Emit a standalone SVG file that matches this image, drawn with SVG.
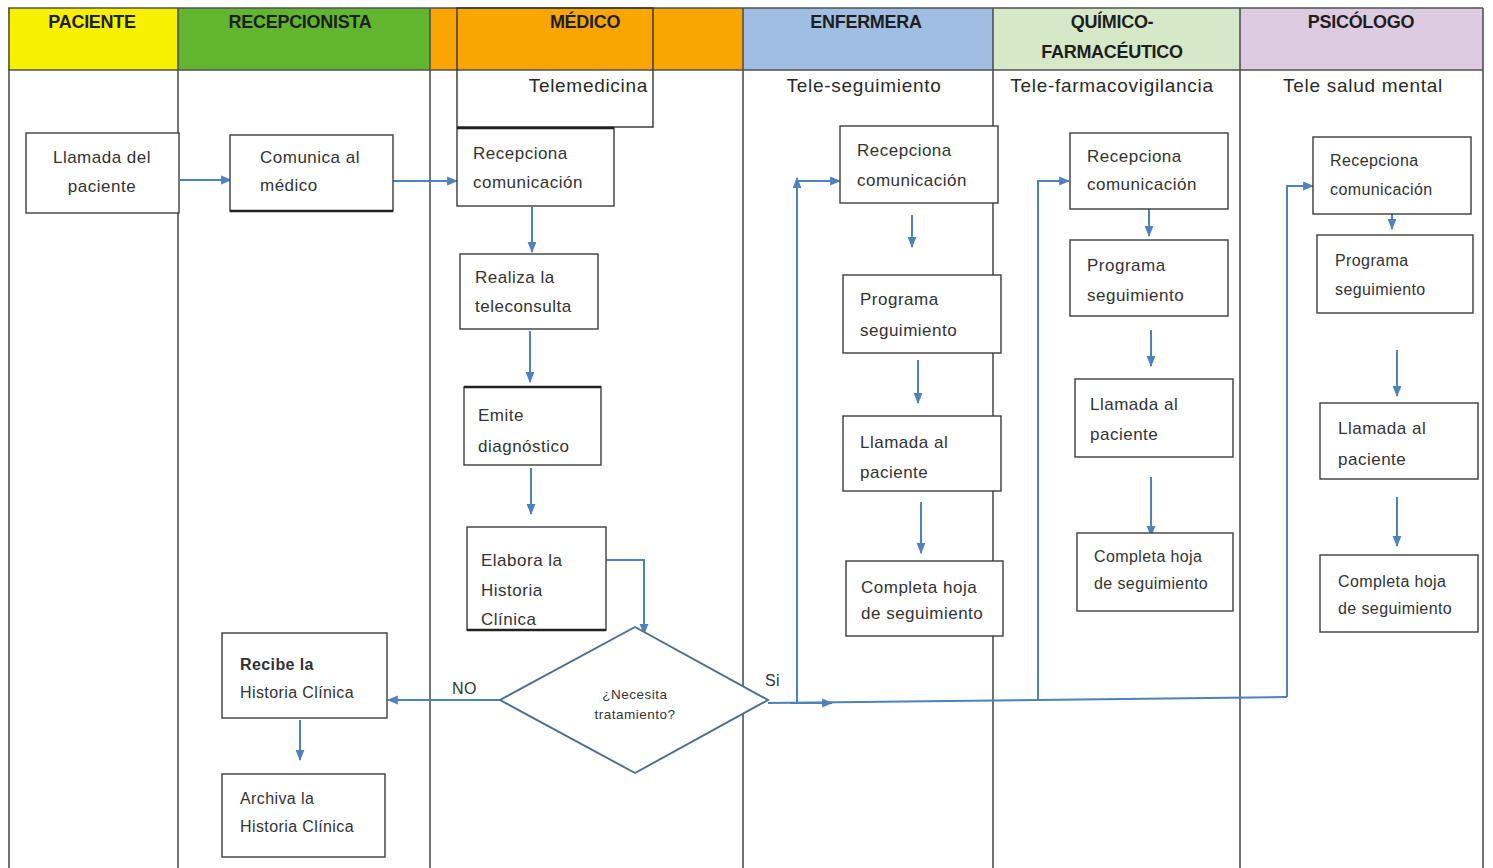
<svg xmlns="http://www.w3.org/2000/svg" width="1493" height="868" viewBox="0 0 1493 868">
<style>
.lane{stroke:#505050;stroke-width:1.6;fill:none}
.box{fill:#fff;stroke:#3c3c3c;stroke-width:1.4}
.thk{stroke:#222;stroke-width:2.6}
.t{font-family:"Liberation Sans",Arial,sans-serif;font-size:17px;fill:#333;letter-spacing:0.5px}
.s{font-size:16px;letter-spacing:0.4px}
.xs{font-size:13.5px;letter-spacing:0.5px}
.h{font-family:"Liberation Sans",Arial,sans-serif;font-weight:bold;font-size:18px;fill:#1e1e1e;text-anchor:middle;letter-spacing:-0.3px}
.sub{font-family:"Liberation Sans",Arial,sans-serif;font-size:19px;fill:#2a2a2a;letter-spacing:0.7px}
.c{stroke:#4f81bd;stroke-width:2;fill:none}
.m{text-anchor:middle}
</style>
<defs>
<marker id="ah" viewBox="0 0 10 10" refX="9" refY="5" markerWidth="11" markerHeight="11" markerUnits="userSpaceOnUse" orient="auto"><path d="M0,1 L10,5 L0,9 z" fill="#4f81bd"/></marker>
</defs>
<rect width="1493" height="868" fill="#fff"/>
<g id="header">
<rect x="8" y="8" width="170" height="62" fill="#f7f000"/>
<rect x="178" y="8" width="252" height="62" fill="#62b62f"/>
<rect x="430" y="8" width="313" height="62" fill="#fba502"/>
<rect x="743" y="8" width="250" height="62" fill="#a0bde3"/>
<rect x="993" y="8" width="247" height="62" fill="#d5e8c8"/>
<rect x="1240" y="8" width="243" height="62" fill="#ddcce1"/>
<line x1="8" y1="8" x2="1483" y2="8" class="lane" stroke-width="2"/>
<line x1="8" y1="70" x2="1483" y2="70" class="lane" stroke-width="2"/>
<rect x="457" y="8" width="196" height="119" fill="none" stroke="#333" stroke-width="1.4"/>
<text class="h" x="92" y="28">PACIENTE</text>
<text class="h" x="300" y="28">RECEPCIONISTA</text>
<text class="h" x="585" y="28">MÉDICO</text>
<text class="h" x="866" y="28">ENFERMERA</text>
<text class="h" x="1112" y="28">QUÍMICO-</text>
<text class="h" x="1112" y="58">FARMACÉUTICO</text>
<text class="h" x="1361" y="28">PSICÓLOGO</text>
<text class="sub" x="648" y="92" text-anchor="end">Telemedicina</text>
<text class="sub m" x="864" y="92">Tele-seguimiento</text>
<text class="sub m" x="1112" y="92">Tele-farmacovigilancia</text>
<text class="sub m" x="1363" y="92">Tele salud mental</text>
</g>
<g id="lanes">
<line x1="9" y1="8" x2="9" y2="868" class="lane"/>
<line x1="178" y1="8" x2="178" y2="868" class="lane"/>
<line x1="430" y1="8" x2="430" y2="868" class="lane"/>
<line x1="743" y1="8" x2="743" y2="868" class="lane"/>
<line x1="993" y1="8" x2="993" y2="868" class="lane"/>
<line x1="1240" y1="8" x2="1240" y2="868" class="lane"/>
<line x1="1483" y1="8" x2="1483" y2="868" class="lane" stroke="#9a9a9a"/>
</g>
<g id="connectors">
<line class="c" x1="180" y1="180" x2="231" y2="180" marker-end="url(#ah)"/>
<line class="c" x1="393" y1="181" x2="457" y2="181" marker-end="url(#ah)"/>
<line class="c" x1="532" y1="207" x2="532" y2="252" marker-end="url(#ah)"/>
<line class="c" x1="530" y1="331" x2="530" y2="382" marker-end="url(#ah)"/>
<line class="c" x1="531" y1="468" x2="531" y2="514" marker-end="url(#ah)"/>
<polyline class="c" points="606,560 644,560 644,634" marker-end="url(#ah)"/>
<line class="c" x1="500" y1="700" x2="388" y2="700" stroke-width="2.6" marker-end="url(#ah)"/>
<line class="c" x1="300" y1="720" x2="300" y2="760" marker-end="url(#ah)"/>
<polyline class="c" points="768,703 1038,700 1287,697"/>
<line class="c" x1="790" y1="703" x2="832" y2="703" marker-end="url(#ah)"/>
<line class="c" x1="797" y1="703" x2="797" y2="178" marker-end="url(#ah)"/>
<line class="c" x1="797" y1="181" x2="840" y2="181" marker-end="url(#ah)"/>
<polyline class="c" points="1038,700 1038,181 1069,181" marker-end="url(#ah)"/>
<polyline class="c" points="1287,697 1287,186 1313,186" marker-end="url(#ah)"/>
<line class="c" x1="912" y1="215" x2="912" y2="247" marker-end="url(#ah)"/>
<line class="c" x1="918" y1="360" x2="918" y2="403" marker-end="url(#ah)"/>
<line class="c" x1="921" y1="502" x2="921" y2="553" stroke-width="2.4" marker-end="url(#ah)"/>
<line class="c" x1="1149" y1="193" x2="1149" y2="236" marker-end="url(#ah)"/>
<line class="c" x1="1151" y1="330" x2="1151" y2="366" stroke-width="2.4" marker-end="url(#ah)"/>
<line class="c" x1="1151" y1="477" x2="1151" y2="536" stroke-width="2.6" marker-end="url(#ah)"/>
<line class="c" x1="1392" y1="195" x2="1392" y2="229" marker-end="url(#ah)"/>
<line class="c" x1="1397" y1="350" x2="1397" y2="396" marker-end="url(#ah)"/>
<line class="c" x1="1397" y1="497" x2="1397" y2="546" marker-end="url(#ah)"/>
</g>
<g id="n-llamada"><rect class="box" x="26" y="133" width="153" height="80"/><text class="t m" x="102" y="163">Llamada del</text><text class="t m" x="102" y="192">paciente</text></g>
<g id="n-comunica"><rect class="box" x="230" y="135" width="163" height="76"/><line class="thk" x1="230" y1="211" x2="393" y2="211"/><text class="t" x="260" y="163">Comunica al</text><text class="t" x="260" y="191">médico</text></g>
<g id="n-recep-med"><rect class="box" x="457" y="128" width="157" height="78"/><line class="thk" x1="457" y1="128" x2="614" y2="128"/><text class="t" x="473" y="159">Recepciona</text><text class="t" x="473" y="188">comunicación</text></g>
<g id="n-realiza"><rect class="box" x="460" y="254" width="138" height="75"/><text class="t" x="475" y="283">Realiza la</text><text class="t" x="475" y="312">teleconsulta</text></g>
<g id="n-emite"><rect class="box" x="464" y="387" width="137" height="78"/><line class="thk" x1="464" y1="387" x2="601" y2="387"/><text class="t" x="478" y="421">Emite</text><text class="t" x="478" y="452">diagnóstico</text></g>
<g id="n-elabora"><rect class="box" x="467" y="527" width="139" height="103"/><text class="t" x="481" y="566">Elabora la</text><text class="t" x="481" y="596">Historia</text><text class="t" x="481" y="625">Clínica</text><line class="thk" x1="467" y1="630" x2="606" y2="630"/></g>
<g id="n-decision"><polygon points="635,627 768,700 635,773 500,700" fill="#fff" stroke="#4a6e8e" stroke-width="1.9"/><text class="t xs m" x="635" y="699">¿Necesita</text><text class="t xs m" x="635" y="719">tratamiento?</text></g>
<g id="n-recibe"><rect class="box" x="222" y="633" width="165" height="85"/><text class="t s" x="240" y="670" font-weight="bold">Recibe la</text><text class="t s" x="240" y="698">Historia Clínica</text></g>
<g id="n-archiva"><rect class="box" x="222" y="774" width="163" height="83"/><text class="t s" x="240" y="804">Archiva la</text><text class="t s" x="240" y="832">Historia Clínica</text></g>
<g id="n-recep-enf"><rect class="box" x="840" y="126" width="158" height="77"/><text class="t" x="857" y="156">Recepciona</text><text class="t" x="857" y="186">comunicación</text></g>
<g id="n-prog-enf"><rect class="box" x="843" y="275" width="158" height="78"/><text class="t" x="860" y="305">Programa</text><text class="t" x="860" y="336">seguimiento</text></g>
<g id="n-llam-enf"><rect class="box" x="843" y="416" width="158" height="75"/><text class="t" x="860" y="448">Llamada al</text><text class="t" x="860" y="478">paciente</text></g>
<g id="n-comp-enf"><rect class="box" x="846" y="561" width="157" height="75"/><text class="t" x="861" y="593">Completa hoja</text><text class="t" x="861" y="619">de seguimiento</text></g>
<g id="n-recep-qf"><rect class="box" x="1070" y="133" width="158" height="76"/><text class="t" x="1087" y="162">Recepciona</text><text class="t" x="1087" y="190">comunicación</text></g>
<g id="n-prog-qf"><rect class="box" x="1070" y="240" width="158" height="76"/><text class="t" x="1087" y="271">Programa</text><text class="t" x="1087" y="301">seguimiento</text></g>
<g id="n-llam-qf"><rect class="box" x="1075" y="379" width="158" height="78"/><text class="t" x="1090" y="410">Llamada  al</text><text class="t" x="1090" y="440">paciente</text></g>
<g id="n-comp-qf"><rect class="box" x="1077" y="533" width="156" height="78"/><text class="t s" x="1094" y="562">Completa hoja</text><text class="t s" x="1094" y="589">de seguimiento</text></g>
<g id="n-recep-ps"><rect class="box" x="1313" y="137" width="158" height="77"/><text class="t s" x="1330" y="166">Recepciona</text><text class="t s" x="1330" y="195">comunicación</text></g>
<g id="n-prog-ps"><rect class="box" x="1317" y="235" width="156" height="78"/><text class="t s" x="1335" y="266">Programa</text><text class="t s" x="1335" y="295">seguimiento</text></g>
<g id="n-llam-ps"><rect class="box" x="1320" y="403" width="158" height="76"/><text class="t" x="1338" y="434">Llamada al</text><text class="t" x="1338" y="465">paciente</text></g>
<g id="n-comp-ps"><rect class="box" x="1320" y="555" width="158" height="77"/><text class="t s" x="1338" y="587">Completa hoja</text><text class="t s" x="1338" y="614">de seguimiento</text></g>
<g id="labels">
<text class="t s" x="452" y="694">NO</text>
<text class="t s" x="765" y="686">Si</text>
</g>
</svg>
